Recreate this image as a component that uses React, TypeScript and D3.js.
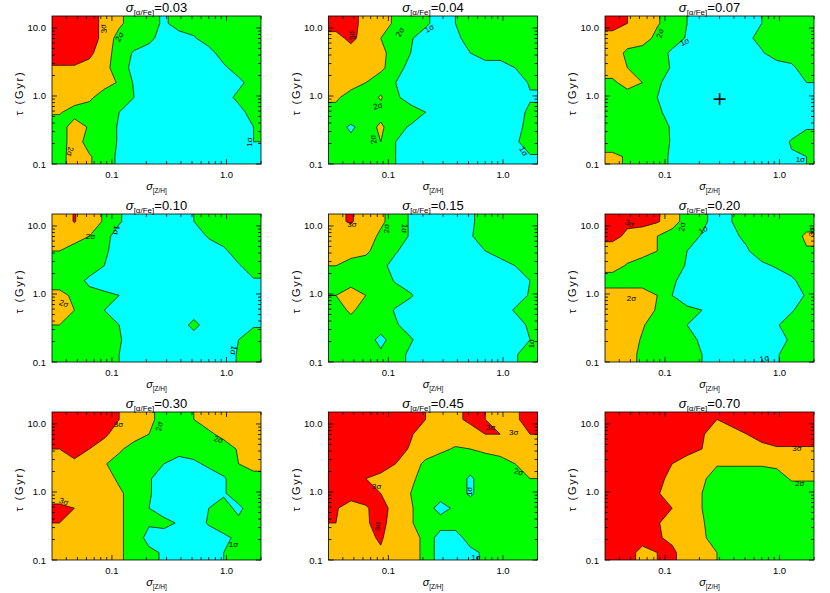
import React from 'react';
import * as d3 from 'd3';

const W = 830;
const H = 593;
const PW = 209;
const PH = 148;
const LEFTS = [52, 328.5, 605];
const TOPS = [16, 214, 412];

const X_DOMAIN = [0.03, 2.0];
const Y_DOMAIN = [0.1, 15];
const LEVELS = [1, 2, 3];
const LEVEL_COLORS = ['#00ffff', '#00ff00', '#ffc000', '#ff0000'];

const PANEL_TITLES = ['0.03', '0.04', '0.07', '0.10', '0.15', '0.20', '0.30', '0.45', '0.70'];
const X_TICKS = [0.1, 1.0];
const X_TICK_LABELS = ['0.1', '1.0'];
const Y_TICKS = [0.1, 1, 10];
const Y_TICK_LABELS = ['0.1', '1.0', '10.0'];
const X_MINOR = [0.04, 0.05, 0.06, 0.07, 0.08, 0.09, 0.2, 0.3, 0.4, 0.5, 0.6, 0.7, 0.8, 0.9, 2.0];
const Y_MINOR = [0.2, 0.3, 0.4, 0.5, 0.6, 0.7, 0.8, 0.9, 2, 3, 4, 5, 6, 7, 8, 9];

// chi-square significance (sigma) grids: rows from tau=15 Gyr (top) to 0.1 Gyr (bottom),
// columns from sigma[Z/H]=0.03 (left) to 2.0 (right), log-spaced
const grid003 = [
  [3.5, 3.5, 3.5, 2.7, 2.2, 1.5, 1.5, 0.8, 1.5, 1.5, 1.5, 1.5, 1.5, 1.5],
  [3.5, 3.5, 3.5, 2.7, 1.6, 1.5, 1.3, 0.5, 0.5, 0.9, 1.5, 1.5, 1.5, 1.5],
  [3.5, 3.5, 3.2, 2.5, 1.5, 0.9, 0.5, 0.5, 0.5, 0.5, 0.6, 1.5, 1.5, 1.5],
  [2.9, 2.9, 2.7, 2.3, 1.5, 0.7, 0.5, 0.5, 0.5, 0.5, 0.5, 0.8, 1.5, 1.5],
  [2.5, 2.5, 2.5, 2.4, 1.9, 0.9, 0.5, 0.5, 0.5, 0.5, 0.5, 0.5, 0.7, 1.5],
  [2.5, 2.5, 2.2, 1.5, 1.5, 1.0, 0.5, 0.5, 0.5, 0.5, 0.5, 0.5, 1.3, 1.5],
  [2.1, 1.6, 1.5, 1.5, 1.0, 0.5, 0.5, 0.5, 0.5, 0.5, 0.5, 0.5, 0.6, 1.5],
  [1.5, 2.5, 1.9, 1.5, 0.9, 0.5, 0.5, 0.5, 0.5, 0.5, 0.5, 0.5, 0.5, 1.0],
  [1.5, 2.5, 1.6, 1.5, 0.9, 0.5, 0.5, 0.5, 0.5, 0.5, 0.5, 0.5, 0.5, 1.0],
  [1.6, 2.5, 2.1, 1.5, 0.8, 0.5, 0.5, 0.5, 0.5, 0.5, 0.5, 0.5, 0.5, 0.8],
];
const grid004 = [
  [3.5, 3.5, 2.5, 2.5, 1.8, 1.5, 1.2, 0.5, 1.0, 1.5, 1.5, 1.5, 1.5, 1.5],
  [2.6, 3.3, 2.5, 2.0, 1.5, 1.1, 0.5, 0.5, 0.7, 1.5, 1.5, 1.5, 1.5, 1.5],
  [2.5, 2.5, 2.5, 2.3, 1.5, 1.0, 0.5, 0.5, 0.5, 1.0, 1.5, 1.5, 1.5, 1.5],
  [2.5, 2.5, 2.5, 2.2, 1.5, 0.6, 0.5, 0.5, 0.5, 0.5, 0.5, 0.5, 1.0, 1.5],
  [2.5, 2.5, 2.0, 1.5, 1.0, 0.5, 0.5, 0.5, 0.5, 0.5, 0.5, 0.5, 0.5, 1.1],
  [2.2, 1.5, 1.5, 2.1, 1.2, 0.5, 0.5, 0.5, 0.5, 0.5, 0.5, 0.5, 0.5, 0.9],
  [1.6, 1.9, 1.5, 1.6, 1.5, 1.5, 1.0, 0.5, 0.5, 0.5, 0.5, 0.5, 0.6, 1.2],
  [1.5, 0.8, 1.5, 2.2, 1.3, 0.9, 0.5, 0.5, 0.5, 0.5, 0.5, 0.5, 0.5, 1.5],
  [1.5, 1.3, 1.5, 2.0, 1.0, 0.5, 0.5, 0.5, 0.5, 0.5, 0.5, 0.5, 0.9, 1.3],
  [1.5, 1.5, 1.5, 1.5, 1.0, 0.5, 0.5, 0.5, 0.5, 0.5, 0.5, 0.5, 0.5, 0.95],
];
const grid007 = [
  [3.5, 3.0, 2.5, 2.1, 1.5, 1.0, 0.5, 0.5, 0.5, 0.5, 1.0, 1.5, 1.5, 1.5],
  [2.5, 2.5, 2.5, 1.7, 1.5, 0.9, 0.5, 0.5, 0.5, 0.8, 1.3, 1.5, 1.5, 1.5],
  [2.5, 1.8, 1.5, 1.5, 0.8, 0.5, 0.5, 0.5, 0.5, 0.5, 0.9, 1.5, 1.5, 1.5],
  [2.5, 2.0, 1.5, 1.5, 0.9, 0.5, 0.5, 0.5, 0.5, 0.5, 0.5, 0.5, 0.8, 1.5],
  [1.8, 2.4, 2.0, 1.2, 0.5, 0.5, 0.5, 0.5, 0.5, 0.5, 0.5, 0.5, 0.5, 1.0],
  [1.5, 1.5, 1.5, 1.0, 0.5, 0.5, 0.5, 0.5, 0.5, 0.5, 0.5, 0.5, 0.5, 0.7],
  [1.5, 1.5, 1.5, 1.2, 0.6, 0.5, 0.5, 0.5, 0.5, 0.5, 0.5, 0.5, 0.5, 0.6],
  [1.5, 1.5, 1.5, 1.4, 0.9, 0.5, 0.5, 0.5, 0.5, 0.5, 0.5, 0.5, 0.5, 0.9],
  [1.5, 1.5, 1.5, 1.5, 0.9, 0.5, 0.5, 0.5, 0.5, 0.5, 0.5, 0.5, 1.1, 1.5],
  [2.2, 1.9, 1.5, 1.5, 0.8, 0.5, 0.5, 0.5, 0.5, 0.5, 0.5, 0.5, 0.9, 1.0],
];
const grid010 = [
  [2.5, 3.05, 2.5, 1.9, 1.1, 0.5, 0.5, 0.5, 0.5, 1.0, 1.5, 1.5, 1.5, 1.5],
  [2.5, 2.5, 2.0, 1.3, 0.6, 0.5, 0.5, 0.5, 0.5, 0.5, 1.1, 1.5, 1.5, 1.5],
  [2.0, 1.5, 1.5, 1.2, 0.5, 0.5, 0.5, 0.5, 0.5, 0.5, 0.5, 0.8, 1.5, 1.5],
  [1.5, 1.5, 1.5, 1.0, 0.5, 0.5, 0.5, 0.5, 0.5, 0.5, 0.5, 0.5, 0.9, 1.5],
  [1.5, 1.4, 0.8, 0.5, 0.5, 0.5, 0.5, 0.5, 0.5, 0.5, 0.5, 0.5, 0.5, 0.9],
  [2.3, 1.8, 1.3, 1.2, 1.0, 0.5, 0.5, 0.5, 0.5, 0.5, 0.5, 0.5, 0.5, 0.8],
  [2.5, 2.0, 1.9, 1.0, 0.5, 0.5, 0.5, 0.5, 0.5, 0.5, 0.5, 0.5, 0.5, 0.5],
  [2.0, 1.5, 1.5, 1.4, 1.0, 0.5, 0.5, 0.5, 0.5, 1.3, 0.5, 0.5, 0.5, 0.9],
  [1.5, 1.5, 1.5, 1.5, 1.1, 0.5, 0.5, 0.5, 0.5, 0.5, 0.5, 0.5, 1.0, 1.5],
  [1.5, 1.5, 1.5, 1.5, 1.0, 0.5, 0.5, 0.5, 0.5, 0.5, 0.5, 0.5, 1.1, 1.5],
];
const grid015 = [
  [2.8, 3.1, 2.5, 2.2, 1.5, 0.9, 0.5, 0.5, 0.5, 0.8, 1.5, 1.5, 1.5, 1.5],
  [2.5, 2.5, 2.5, 1.8, 1.5, 0.9, 0.5, 0.5, 0.5, 0.9, 1.5, 1.5, 1.5, 1.5],
  [2.5, 2.5, 2.2, 1.5, 1.1, 0.5, 0.5, 0.5, 0.5, 0.5, 1.0, 1.5, 1.5, 1.5],
  [2.0, 1.5, 1.5, 1.3, 0.6, 0.5, 0.5, 0.5, 0.5, 0.5, 0.5, 0.5, 1.0, 1.5],
  [1.9, 1.6, 1.5, 1.5, 0.9, 0.5, 0.5, 0.5, 0.5, 0.5, 0.5, 0.5, 0.5, 1.0],
  [2.0, 2.5, 2.0, 1.5, 1.5, 1.1, 0.5, 0.5, 0.5, 0.5, 0.5, 0.5, 0.5, 1.1],
  [1.5, 2.2, 1.5, 1.5, 0.9, 0.5, 0.5, 0.5, 0.5, 0.5, 0.5, 0.5, 1.1, 1.5],
  [1.5, 1.5, 1.5, 1.5, 1.1, 0.6, 0.5, 0.5, 0.5, 0.5, 0.5, 0.5, 0.5, 1.2],
  [1.5, 1.5, 1.5, 0.7, 1.5, 1.1, 0.5, 0.5, 0.5, 0.5, 0.5, 0.5, 0.5, 1.0],
  [1.5, 1.5, 1.5, 1.2, 1.4, 0.8, 0.5, 0.5, 0.5, 0.5, 0.5, 0.5, 0.9, 1.5],
];
const grid020 = [
  [3.5, 3.2, 3.3, 3.1, 2.5, 1.5, 1.3, 0.5, 1.0, 1.5, 1.5, 1.5, 1.5, 1.5],
  [3.3, 2.8, 2.5, 2.0, 1.5, 1.5, 0.9, 0.5, 0.8, 1.2, 1.5, 1.5, 1.5, 2.2],
  [2.5, 2.5, 2.4, 2.0, 1.5, 1.0, 0.5, 0.5, 0.5, 0.9, 1.5, 1.5, 1.5, 1.9],
  [2.4, 1.9, 1.5, 1.5, 1.5, 0.9, 0.5, 0.5, 0.5, 0.5, 0.8, 1.1, 1.5, 1.5],
  [1.5, 1.5, 1.5, 1.5, 1.2, 0.5, 0.5, 0.5, 0.5, 0.5, 0.5, 0.5, 0.8, 1.5],
  [2.5, 2.5, 2.5, 2.0, 1.0, 0.5, 0.5, 0.5, 0.5, 0.5, 0.5, 0.5, 0.5, 1.1],
  [2.5, 2.5, 2.5, 1.9, 1.5, 1.2, 1.0, 0.5, 0.5, 0.5, 0.5, 0.5, 0.9, 1.5],
  [2.5, 2.5, 2.1, 1.5, 1.5, 1.0, 0.5, 0.5, 0.5, 0.5, 0.5, 0.9, 1.5, 1.5],
  [2.5, 2.5, 1.9, 1.5, 1.5, 1.2, 0.9, 0.5, 0.5, 0.5, 0.5, 0.5, 1.2, 1.5],
  [2.5, 2.5, 1.7, 1.5, 1.5, 1.5, 1.0, 0.5, 0.5, 0.5, 0.5, 0.9, 1.5, 1.5],
];
const grid030 = [
  [3.5, 3.5, 3.5, 3.5, 3.0, 2.5, 2.3, 1.5, 1.5, 2.0, 2.5, 2.5, 2.5, 2.6],
  [3.5, 3.5, 3.5, 3.2, 2.5, 2.5, 2.0, 1.5, 1.5, 1.5, 1.8, 2.3, 2.5, 2.5],
  [3.0, 3.2, 3.0, 2.5, 2.2, 1.5, 1.5, 1.5, 1.5, 1.5, 1.5, 1.5, 2.1, 2.5],
  [2.5, 2.9, 2.5, 2.1, 1.5, 1.5, 1.5, 1.0, 0.5, 0.8, 1.2, 1.5, 2.0, 2.3],
  [2.5, 2.5, 2.5, 2.5, 1.8, 1.5, 1.1, 0.5, 0.5, 0.5, 0.5, 0.9, 1.5, 1.7],
  [2.5, 2.5, 2.5, 2.5, 2.2, 1.5, 1.1, 0.5, 0.5, 0.5, 0.5, 0.9, 1.5, 1.5],
  [3.2, 3.0, 2.5, 2.5, 2.2, 1.5, 1.0, 0.5, 0.5, 0.5, 1.0, 1.3, 0.8, 1.5],
  [3.0, 2.5, 2.5, 2.5, 2.2, 1.5, 1.1, 1.3, 0.9, 0.5, 1.1, 1.5, 1.2, 1.5],
  [2.5, 2.5, 2.5, 2.5, 2.2, 1.5, 0.7, 0.5, 0.5, 0.5, 0.5, 0.8, 1.2, 1.5],
  [2.5, 2.5, 2.5, 2.5, 2.2, 1.5, 1.2, 0.9, 0.5, 0.5, 0.5, 1.0, 1.1, 1.5],
];
const grid045 = [
  [3.5, 3.5, 3.5, 3.5, 3.5, 3.5, 3.0, 2.5, 2.8, 3.2, 3.0, 2.5, 2.8, 3.5],
  [3.5, 3.5, 3.5, 3.5, 3.5, 3.1, 2.5, 2.5, 2.5, 2.6, 3.0, 3.0, 2.7, 3.0],
  [3.5, 3.5, 3.5, 3.5, 3.4, 2.9, 2.5, 2.2, 1.9, 2.0, 2.2, 2.5, 2.5, 2.6],
  [3.5, 3.5, 3.5, 3.5, 3.0, 2.5, 1.8, 1.5, 1.5, 1.5, 1.5, 1.5, 2.0, 2.5],
  [3.5, 3.5, 3.0, 2.7, 2.6, 2.2, 1.6, 1.5, 1.5, 0.85, 1.5, 1.5, 1.6, 2.0],
  [3.5, 3.5, 3.4, 3.0, 2.5, 2.0, 1.5, 1.5, 1.5, 0.85, 1.5, 1.5, 1.5, 1.5],
  [3.1, 2.5, 2.9, 3.4, 2.6, 2.1, 1.5, 0.6, 1.2, 1.5, 1.5, 1.5, 1.5, 1.5],
  [3.0, 2.5, 2.9, 3.3, 2.5, 2.1, 1.5, 1.5, 1.5, 1.5, 1.5, 1.5, 1.5, 1.5],
  [2.9, 2.5, 2.8, 3.1, 2.5, 2.5, 1.7, 0.5, 0.5, 1.5, 1.5, 1.5, 1.5, 1.5],
  [2.9, 2.5, 2.8, 2.9, 2.5, 2.5, 1.7, 0.5, 0.5, 0.7, 1.2, 1.5, 1.5, 1.5],
];
const grid070 = [
  [3.5, 3.5, 3.5, 3.5, 3.5, 3.5, 3.5, 3.0, 3.5, 3.5, 3.5, 3.5, 3.5, 3.5],
  [3.5, 3.5, 3.5, 3.5, 3.5, 3.5, 3.1, 2.5, 2.5, 3.0, 3.5, 3.5, 3.5, 3.5],
  [3.5, 3.5, 3.5, 3.5, 3.5, 3.4, 3.0, 2.5, 2.5, 2.5, 2.6, 2.9, 2.9, 2.9],
  [3.5, 3.5, 3.5, 3.3, 3.0, 2.5, 2.3, 2.1, 2.1, 2.1, 2.1, 2.2, 2.2, 2.5],
  [3.5, 3.5, 3.5, 3.3, 2.7, 2.5, 2.2, 1.5, 1.5, 1.5, 1.5, 1.6, 2.1, 2.1],
  [3.5, 3.5, 3.5, 3.1, 2.5, 2.5, 2.0, 1.5, 1.5, 1.5, 1.5, 1.5, 1.5, 1.5],
  [3.5, 3.5, 3.5, 3.5, 3.0, 2.5, 2.0, 1.5, 1.5, 1.5, 1.5, 1.5, 1.5, 1.5],
  [3.5, 3.5, 3.5, 3.1, 2.5, 2.5, 2.1, 1.5, 1.5, 1.5, 1.5, 1.5, 1.5, 1.5],
  [3.5, 3.5, 3.5, 3.1, 2.8, 2.5, 2.2, 1.5, 1.5, 1.5, 1.5, 1.5, 1.5, 1.5],
  [3.5, 3.5, 2.6, 3.0, 3.2, 2.5, 2.5, 2.0, 1.5, 1.5, 1.5, 1.5, 1.5, 1.9],
];
const GRIDS = [grid003, grid004, grid007, grid010, grid015, grid020, grid030, grid045, grid070];

// contour labels: [text, sigma[Z/H], tau, angle]
const labels003 = [['3σ', 0.085, 9.8, -100], ['2σ', 0.117, 7.4, -60], ['2σ', 0.043, 0.153, 100], ['1σ', 1.6, 0.21, -90]];
const labels004 = [['3σ', 0.048, 7.8, -100], ['2σ', 0.127, 8.7, -60], ['1σ', 0.228, 9.8, -30], ['2σ', 0.081, 0.71, -15], ['2σ', 0.074, 0.23, -100], ['1σ', 1.51, 0.153, 60]];
const labels007 = [['2σ', 0.091, 8.3, -75], ['1σ', 0.149, 6.2, -25], ['1σ', 1.52, 0.116, 0]];
const labels010 = [['2σ', 0.065, 7.0, 0], ['1σ', 0.109, 8.7, 100], ['2σ', 0.038, 0.72, 20], ['1σ', 1.15, 0.149, 100]];
const labels015 = [['3σ', 0.048, 10.6, 0], ['2σ', 0.096, 9.2, -90], ['1σ', 0.138, 9.2, 95], ['1σ', 1.79, 0.186, -90]];
const labels020 = [['3σ', 0.049, 10.9, 20], ['2σ', 0.142, 9.7, -80], ['1σ', 0.216, 8.7, -30], ['2σ', 0.051, 0.86, 0], ['1σ', 0.74, 0.112, -15], ['3σ', 1.89, 8.2, -90]];
const labels030 = [['3σ', 0.114, 9.7, 0], ['2σ', 0.26, 9.2, -80], ['2σ', 0.85, 5.9, 15], ['3σ', 0.038, 0.72, 20], ['1σ', 1.15, 0.167, 0]];
const labels045 = [['3σ', 0.78, 8.9, 0], ['3σ', 1.24, 7.4, 0], ['2σ', 1.37, 1.96, 15], ['3σ', 0.079, 1.21, 0], ['3σ', 0.080, 0.31, -90], ['1σ', 0.51, 1.02, -90], ['1σ', 0.58, 0.11, 0]];
const labels070 = [['3σ', 1.42, 4.3, 0], ['2σ', 1.50, 1.35, 0]];
const LABELS = [labels003, labels004, labels007, labels010, labels015, labels020, labels030, labels045, labels070];

// best-fit marker (panel sigma[alpha/Fe]=0.07)
const BEST_PANEL = 2;
const BEST_X = 0.3;
const BEST_Y = 0.9;

const FONT = "'Liberation Sans', Arial, Helvetica, sans-serif";

function padGrid(grid: number[][]) {
  const rows = grid.map((r) => [r[0], ...r, r[r.length - 1]]);
  return [rows[0], ...rows, rows[rows.length - 1]];
}

function Panel({ idx }: { idx: number }) {
  const col = idx % 3;
  const row = Math.floor(idx / 3);
  const x0 = LEFTS[col];
  const y0 = TOPS[row];
  const xScale = d3.scaleLog().domain(X_DOMAIN).range([x0, x0 + PW]);
  const yScale = d3.scaleLog().domain(Y_DOMAIN).range([y0 + PH, y0]);
  const grid = GRIDS[idx];
  const ny = grid.length;
  const nx = grid[0].length;
  const padded = padGrid(grid);
  const gx = d3.scaleLinear().domain([0, nx]).range([Math.log10(X_DOMAIN[0]), Math.log10(X_DOMAIN[1])]);
  const gy = d3.scaleLinear().domain([0, ny]).range([Math.log10(Y_DOMAIN[1]), Math.log10(Y_DOMAIN[0])]);
  const proj = d3.geoTransform({
    point(x: number, y: number) {
      (this as any).stream.point(xScale(Math.pow(10, gx(x - 1))), yScale(Math.pow(10, gy(y - 1))));
    },
  });
  const path = d3.geoPath(proj as any);
  const contours = d3.contours().size([nx + 2, ny + 2]).thresholds(LEVELS)(padded.flat());
  const clipId = `clip-${idx}`;
  const maj = 5;
  const min = 3;

  return (
    <g>
      <defs>
        <clipPath id={clipId}>
          <rect x={x0} y={y0} width={PW} height={PH} />
        </clipPath>
      </defs>
      <g clipPath={`url(#${clipId})`}>
        <rect x={x0} y={y0} width={PW} height={PH} fill={LEVEL_COLORS[0]} />
        {contours.map((c: any, i: number) => (
          <path key={`f${i}`} d={path(c) || ''} fill={LEVEL_COLORS[i + 1]} stroke="none" />
        ))}
        {contours.map((c: any, i: number) => (
          <path key={`s${i}`} d={path(c) || ''} fill="none" stroke="#000" strokeWidth={0.7} strokeLinejoin="round" />
        ))}
      </g>
      {LABELS[idx].map((l: any, i: number) => {
        const lx = xScale(l[1]);
        const ly = yScale(l[2]);
        return (
          <text key={`l${i}`} x={lx} y={ly} fontSize={8} fontFamily={FONT} textAnchor="middle" dominantBaseline="central"
            transform={`rotate(${l[3]},${lx},${ly})`} fill="#000">{l[0]}</text>
        );
      })}
      {idx === BEST_PANEL && (
        <g stroke="#000" strokeWidth={1.6}>
          <line x1={xScale(BEST_X) - 6} x2={xScale(BEST_X) + 6} y1={yScale(BEST_Y)} y2={yScale(BEST_Y)} />
          <line x1={xScale(BEST_X)} x2={xScale(BEST_X)} y1={yScale(BEST_Y) - 6} y2={yScale(BEST_Y) + 6} />
        </g>
      )}
      <rect x={x0} y={y0} width={PW} height={PH} fill="none" stroke="#000" strokeWidth={0.8} />
      <g stroke="#000" strokeWidth={0.8}>
        {X_TICKS.map((t, i) => (
          <g key={`xt${i}`}>
            <line x1={xScale(t)} x2={xScale(t)} y1={y0 + PH} y2={y0 + PH - maj} />
            <line x1={xScale(t)} x2={xScale(t)} y1={y0} y2={y0 + maj} />
          </g>
        ))}
        {X_MINOR.map((t, i) => (
          <g key={`xm${i}`}>
            <line x1={xScale(t)} x2={xScale(t)} y1={y0 + PH} y2={y0 + PH - min} />
            <line x1={xScale(t)} x2={xScale(t)} y1={y0} y2={y0 + min} />
          </g>
        ))}
        {Y_TICKS.map((t, i) => (
          <g key={`yt${i}`}>
            <line x1={x0} x2={x0 + maj} y1={yScale(t)} y2={yScale(t)} />
            <line x1={x0 + PW} x2={x0 + PW - maj} y1={yScale(t)} y2={yScale(t)} />
          </g>
        ))}
        {Y_MINOR.map((t, i) => (
          <g key={`ym${i}`}>
            <line x1={x0} x2={x0 + min} y1={yScale(t)} y2={yScale(t)} />
            <line x1={x0 + PW} x2={x0 + PW - min} y1={yScale(t)} y2={yScale(t)} />
          </g>
        ))}
      </g>
      {X_TICKS.map((t, i) => (
        <text key={`xl${i}`} x={xScale(t)} y={y0 + PH + 14} fontSize={9.5} fontFamily={FONT} textAnchor="middle">{X_TICK_LABELS[i]}</text>
      ))}
      {Y_TICKS.map((t, i) => (
        <text key={`yl${i}`} x={x0 - 6} y={yScale(t) + 3.5} fontSize={9.5} fontFamily={FONT} textAnchor="end">{Y_TICK_LABELS[i]}</text>
      ))}
      <text x={x0 + PW / 2} y={y0 - 4} fontSize={13} fontFamily={FONT} textAnchor="middle">
        <tspan fontStyle="italic">σ</tspan>
        <tspan fontSize={8} dy={3}>[α/Fe]</tspan>
        <tspan dy={-3}>={PANEL_TITLES[idx]}</tspan>
      </text>
      <text x={x0 + PW / 2} y={y0 + PH + 26} fontSize={11} fontFamily={FONT} textAnchor="middle">
        <tspan fontStyle="italic">σ</tspan>
        <tspan fontSize={6.5} dy={2.5}>[Z/H]</tspan>
      </text>
      <text transform={`translate(${x0 - 29},${y0 + PH / 2 + 3}) rotate(-90)`} fontSize={11} fontFamily={FONT} textAnchor="middle" letterSpacing={1.8}>
        τ (Gyr)
      </text>
    </g>
  );
}

export default function App() {
  return (
    <svg width={W} height={H} viewBox={`0 0 ${W} ${H}`} style={{ position: 'absolute', left: 0, top: 0, background: '#fff' }}>
      <rect x={0} y={0} width={W} height={H} fill="#fff" />
      {PANEL_TITLES.map((_, i) => (
        <Panel key={i} idx={i} />
      ))}
    </svg>
  );
}
